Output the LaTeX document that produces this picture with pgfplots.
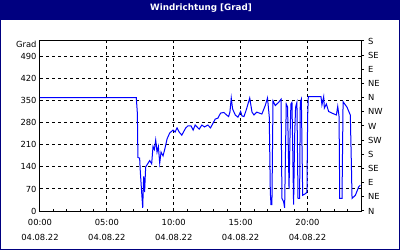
\documentclass[border=0pt]{standalone}
\usepackage{pgfplots}
\pgfplotsset{compat=1.18}
\usepackage{fontspec}
\setmainfont{DejaVu Sans}
\definecolor{navy}{RGB}{0,0,128}
\definecolor{lineblue}{RGB}{0,0,255}
\begin{document}
\begin{tikzpicture}[x=1bp,y=1bp]
\fill[navy] (0,0) rectangle (400,250);
\fill[white] (1.5,1.5) rectangle (398.5,229.5);
\node[text=white,font=\fontsize{8.8}{10}\selectfont\bfseries] at (201,241.5) {Windrichtung [Grad]};
\begin{axis}[
  at={(40bp,39bp)}, anchor=south west,
  scale only axis, width=321bp, height=170bp,
  xmin=0, xmax=24, ymin=0, ymax=540,
  axis line style={black, line width=1bp},
  font=\fontsize{8.4}{15}\selectfont,
  xtick={0,5,10,15,20},
  xticklabels={{00:00\\04.08.22},{05:00\\04.08.22},{10:00\\04.08.22},{15:00\\04.08.22},{20:00\\04.08.22}},
  xticklabel style={align=center, font=\fontsize{8.4}{15}\selectfont, yshift=-5bp},
  minor xtick={1,2,3,4,6,7,8,9,11,12,13,14,16,17,18,19,21,22,23},
  ytick={0,70,140,210,280,350,420,490},
  yticklabels={0,70,140,210,280,350,420,490},
  yticklabel style={font=\fontsize{8.4}{10}\selectfont},
  extra y ticks={540},
  extra y tick labels={Grad},
  extra y tick style={grid=none, major tick length=0pt, yticklabel style={yshift=-3bp}},
  xtick pos=bottom, ytick pos=left,
  tick align=inside,
  tick style={black, line width=1bp},
  major tick length=2bp, minor tick length=2bp,
  ytick style={draw=none},
  xmajorgrids, ymajorgrids,
  major grid style={black, line width=1bp, dash pattern=on 3bp off 3bp},
]
\addplot[lineblue, line width=1bp] coordinates {
(0,360) (7.2,360) (7.28,310) (7.32,170) (7.45,168) (7.5,125) (7.6,60) (7.68,10)
(7.75,110) (7.82,60) (7.9,140) (8.05,150) (8.2,160) (8.35,150) (8.45,205) (8.55,195)
(8.65,225) (8.75,187) (8.85,205) (8.95,152) (9.05,187) (9.2,175) (9.35,200) (9.5,229)
(9.7,248) (9.95,257) (10.1,251) (10.25,264) (10.4,251) (10.6,241) (10.9,264) (11.05,270)
(11.3,270) (11.45,257) (11.6,273) (11.9,260) (12.1,273) (12.3,267) (12.55,273) (12.75,264)
(12.9,276) (13.1,292) (13.3,295) (13.5,311) (13.75,313) (13.95,305) (14.1,300) (14.2,314)
(14.3,359) (14.4,324) (14.6,305) (14.8,298) (15.0,316) (15.1,302) (15.25,300) (15.42,321)
(15.68,359) (15.85,314) (16.0,305) (16.2,314) (16.4,311) (16.59,308) (16.84,335) (17.01,359)
(17.14,300) (17.22,60) (17.27,20) (17.34,20) (17.42,350) (17.59,335) (17.84,345) (18.02,355)
(18.09,40) (18.21,30) (18.29,10) (18.41,340) (18.51,330) (18.62,70) (18.69,230) (18.76,340)
(18.84,345) (18.96,20) (19.04,240) (19.11,330) (19.21,345) (19.29,40) (19.41,40) (19.46,345)
(19.54,355) (19.64,50) (19.84,55) (19.96,60) (20.01,300) (20.06,363) (21.01,363) (21.08,337)
(21.21,363) (21.26,327) (21.41,340) (21.58,316) (21.83,311) (22.16,305) (22.26,332) (22.36,300)
(22.41,40) (22.58,40) (22.66,347) (22.78,340) (22.95,330) (23.2,305) (23.28,150) (23.33,40)
(23.58,50) (23.83,77) (23.95,82)
};
\end{axis}
\begin{axis}[
  at={(40bp,39bp)}, anchor=south west,
  scale only axis, width=321bp, height=170bp,
  xmin=0, xmax=24, ymin=0, ymax=540,
  axis y line*=right, axis x line=none,
  axis line style={black, line width=1bp},
  ytick={0,45,...,540},
  yticklabels={N,NE,E,SE,S,SW,W,NW,N,NE,E,SE,S},
  yticklabel style={font=\fontsize{8.4}{10}\selectfont, xshift=0.5bp},
  tick align=outside,
  major tick length=3bp,
  tick style={black, line width=1bp},
]
\end{axis}
\end{tikzpicture}
\end{document}
